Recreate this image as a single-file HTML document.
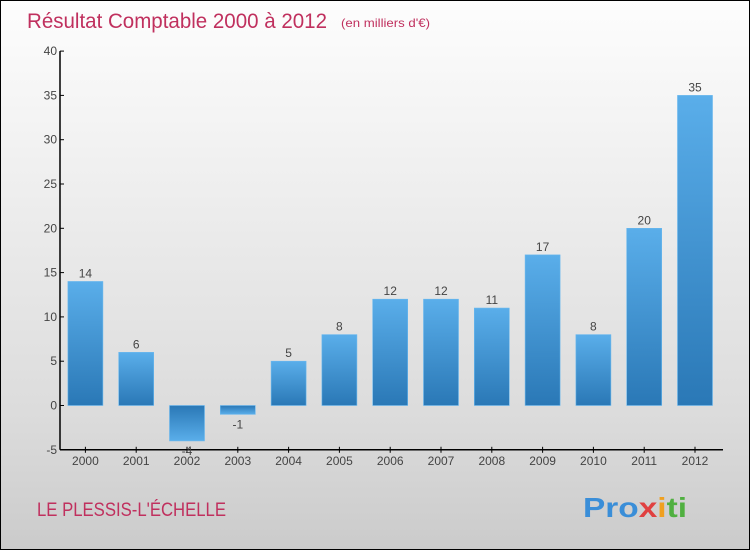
<!DOCTYPE html>
<html><head><meta charset="utf-8"><style>
body{margin:0;}
#c{width:748px;height:548px;border:1px solid #000;background:linear-gradient(#fdfdfd,#f0f0f0 30%,#dcdcdc 75%,#cbcbcb);position:relative;overflow:hidden;font-family:"Liberation Sans",sans-serif;}
</style></head><body>
<div id="c">
<svg width="748" height="548" xmlns="http://www.w3.org/2000/svg">
<defs>
<linearGradient id="gp" x1="0" y1="0" x2="0" y2="1"><stop offset="0" stop-color="#5aaeea"/><stop offset="1" stop-color="#2a78b6"/></linearGradient>
<linearGradient id="gn" x1="0" y1="0" x2="0" y2="1"><stop offset="0" stop-color="#2a78b6"/><stop offset="1" stop-color="#5aaeea"/></linearGradient>
</defs>
<text x="26" y="27" font-size="21" fill="#c0305e" textLength="300" lengthAdjust="spacingAndGlyphs">Résultat Comptable 2000 à 2012</text>
<text x="340" y="26" font-size="12" fill="#c0305e" textLength="89" lengthAdjust="spacingAndGlyphs">(en milliers d'€)</text>
<g id="plot"></g>
<text x="36" y="515" font-size="19" fill="#c0305e" textLength="189" lengthAdjust="spacingAndGlyphs">LE PLESSIS-L'ÉCHELLE</text>
<text x="582" y="516" font-size="28" font-weight="bold" fill="#e8a020" textLength="104" lengthAdjust="spacingAndGlyphs"><tspan fill="#3a8ed8">Pro</tspan><tspan fill="#e04040">x</tspan><tspan fill="#f0a020">i</tspan><tspan fill="#50b040">ti</tspan></text>
</svg>
</div>
<script>
const categories=["2000","2001","2002","2003","2004","2005","2006","2007","2008","2009","2010","2011","2012"];
const values=[14,6,-4,-1,5,8,12,12,11,17,8,20,35];
const ticks=[-5,0,5,10,15,20,25,30,35,40];
const NS="http://www.w3.org/2000/svg";
const g=document.getElementById('plot');
const x0=59,bw=50.8,y=v=>404.5-(v)*8.86;
function mk(t,a){const e=document.createElementNS(NS,t);for(const k in a)e.setAttribute(k,a[k]);g.appendChild(e);return e;}
const ya=mk('line',{x1:x0,y1:y(40),x2:x0,y2:y(-5),stroke:'#000','stroke-width':1.5});


const xa=mk('line',{x1:x0,y1:y(-5),x2:722,y2:y(-5),stroke:'#000','stroke-width':1.5});


ticks.forEach(t=>{
 mk('line',{x1:x0,y1:y(t),x2:x0+4,y2:y(t),stroke:'#000'});
 const tx=mk('text',{x:x0-3,y:y(t)+4,'font-size':12,fill:'#444','text-anchor':'end'});
 tx.textContent=t;
 
 
});
categories.forEach((c,i)=>{
 const cx=x0+bw*(i+0.5),v=values[i];
 mk('line',{x1:cx,y1:y(-5)-3,x2:cx,y2:y(-5)+3,stroke:'#000'});
 const lt=mk('text',{x:cx,y:y(-5)+15,'font-size':12,fill:'#444','text-anchor':'middle'});
 lt.textContent=c;
 
 
 const top=Math.min(y(v),y(0)),h=Math.abs(y(v)-y(0));
 const r=mk('rect',{x:cx-17.5,y:top,width:35,height:h,fill:v>=0?'url(#gp)':'url(#gn)',stroke:'#6ab8ee','stroke-width':0.6});
 
 
 const vt=mk('text',{x:cx,y:v>=0?y(v)-4:y(v)+14,'font-size':12,fill:'#444','text-anchor':'middle'});
 vt.textContent=v;
 
 
});
</script>
</body></html>
